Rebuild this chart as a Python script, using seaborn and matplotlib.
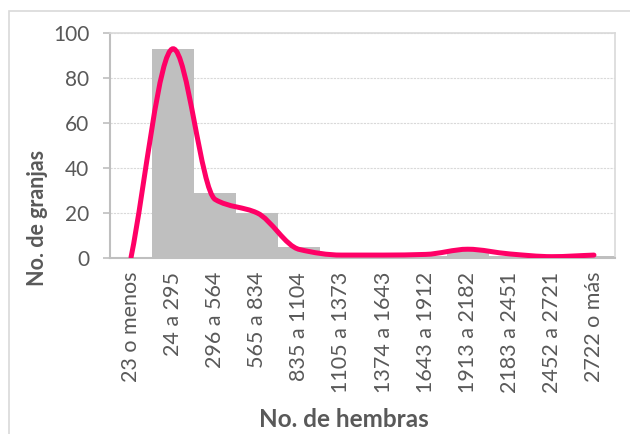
import numpy as np
import pandas as pd
import matplotlib
matplotlib.use("Agg")
import matplotlib.pyplot as plt
from matplotlib.path import Path
from matplotlib.patches import PathPatch, Rectangle
import seaborn as sns

# datos
categorias = ["23 o menos", "24 a 295", "296 a 564", "565 a 834", "835 a 1104",
              "1105 a 1373", "1374 a 1643", "1643 a 1912", "1913 a 2182",
              "2183 a 2451", "2452 a 2721", "2722 o más"]
granjas = [0, 93, 29, 20, 5, 1, 1, 1, 3, 1, 0, 1]
curva = [0.3, 93, 26, 20, 3.8, 1.3, 1.3, 1.6, 3.9, 1.8, 0.6, 1.3]

sns.set_style("white")
plt.rcParams['font.family'] = ['Lato', 'DejaVu Sans']

gris = "#595959"
df = pd.DataFrame({"cat": categorias, "n": granjas})

fig = plt.figure(figsize=(6.3, 4.34), dpi=100)
ax = fig.add_axes([110/630, 1 - 258/434, 505/630, 225/434])

sns.barplot(data=df, x="cat", y="n", color="#BFBFBF", width=1.0,
            saturation=1, linewidth=0, ax=ax, zorder=2)

# linea suavizada con bezier, tangentes tipo Fritsch-Carlson (sin sobrepaso)
x = np.arange(len(curva), dtype=float)
y = np.array(curva, dtype=float)
d = np.diff(y)
m = np.zeros_like(y)
m[0], m[-1] = d[0], d[-1]
for k in range(1, len(y) - 1):
    if d[k - 1] * d[k] > 0:
        m[k] = 2 / (1 / d[k - 1] + 1 / d[k])
verts = [(x[0], y[0])]
codes = [Path.MOVETO]
for i in range(len(x) - 1):
    verts += [(x[i] + 1/3, y[i] + m[i] / 3),
              (x[i + 1] - 1/3, y[i + 1] - m[i + 1] / 3),
              (x[i + 1], y[i + 1])]
    codes += [Path.CURVE4] * 3
ax.add_patch(PathPatch(Path(verts, codes), facecolor="none", edgecolor="#FF0066",
                       lw=3.6, capstyle="round", zorder=3))

ax.set_xlim(-0.5, len(categorias) - 0.5)
ax.set_ylim(0, 100)
ax.set_yticks([0, 20, 40, 60, 80, 100])
ax.yaxis.grid(True, color="#D9D9D9", linestyle=(0, (2, 1)), lw=0.8, zorder=0)
ax.set_axisbelow(True)

for s in ["top", "right"]:
    ax.spines[s].set_visible(True)
    ax.spines[s].set_color("#D9D9D9")
    ax.spines[s].set_linewidth(1.2)
for s in ["left", "bottom"]:
    ax.spines[s].set_color("#BFBFBF")
    ax.spines[s].set_linewidth(1.5)

ax.tick_params(axis="y", length=5, width=1.2, color="#BFBFBF", labelsize=15,
               labelcolor=gris, pad=10, left=True)
ax.tick_params(axis="x", length=0, labelsize=15.5, labelcolor=gris, pad=10)
plt.setp(ax.get_xticklabels(), rotation=90)

ax.set_ylabel("No. de granjas", fontsize=15.5, fontweight="bold", color=gris)
ax.set_xlabel("No. de hembras", fontsize=17.5, fontweight="bold", color=gris)
ax.yaxis.set_label_coords(-0.123, 0.178)
ax.xaxis.set_label_coords(0.463, -0.668)

# borde del area del grafico
fig.patches.append(Rectangle((9/630, -0.1), 1.2, 1.1 - 11/434,
                             transform=fig.transFigure, fill=False,
                             edgecolor="#D9D9D9", lw=1.2))

fig.savefig("out.png", dpi=100)
